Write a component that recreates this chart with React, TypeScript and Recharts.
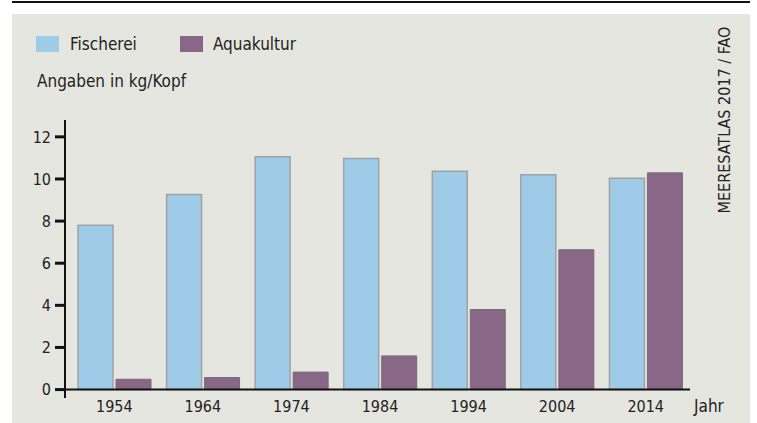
import React from "react";
import {
    BarChart,
    Bar,
    XAxis,
    YAxis,
    ReferenceLine,
    Legend,
} from "recharts";

const years = ["1954", "1964", "1974", "1984", "1994", "2004", "2014"];
const fischerei = [7.8, 9.26, 11.05, 10.97, 10.37, 10.2, 10.03];
const aquakultur = [0.49, 0.57, 0.83, 1.6, 3.8, 6.64, 10.29];
const yTicks = [0, 2, 4, 6, 8, 10, 12];

const data = years.map((year, i) => ({
    year,
    fischerei: fischerei[i],
    aquakultur: aquakultur[i],
}));

const FONT = "'DejaVu Sans Condensed', 'DejaVu Sans', sans-serif";
const TEXT = "#222";
const BLUE = "#9ecbe8";
const PURPLE = "#886787";

const LegendContent = () => (
    <div style={{ display: "flex", alignItems: "center", fontFamily: FONT, fontSize: 17, color: TEXT }}>
        <span style={{ width: 23, height: 16, background: BLUE, display: "inline-block" }} />
        <span style={{ marginLeft: 11 }}>Fischerei</span>
        <span style={{ width: 23, height: 16, background: PURPLE, display: "inline-block", marginLeft: 43 }} />
        <span style={{ marginLeft: 10 }}>Aquakultur</span>
    </div>
);

const App: React.FC = () => {
    return (
        <div style={{ position: "absolute", left: 0, top: 0, width: 757, height: 423, fontFamily: FONT }}>
            <div style={{ position: "absolute", left: 12, top: 1, width: 738, height: 2, background: "#111" }} />
            <div style={{ position: "absolute", left: 12, top: 14, width: 738, height: 409, background: "#e6e6e1" }} />
            <div style={{ position: "absolute", left: 37, top: 71, fontSize: 17, color: TEXT, whiteSpace: "nowrap" }}>
                Angaben in kg/Kopf
            </div>
            <div
                style={{
                    position: "absolute",
                    left: 724,
                    top: 120,
                    transform: "translate(-50%, -50%) rotate(-90deg)",
                    fontSize: 16,
                    color: TEXT,
                    whiteSpace: "nowrap",
                }}
            >
                MEERESATLAS 2017 / FAO
            </div>
            <div style={{ position: "absolute", left: 694, top: 396, fontSize: 17, color: TEXT }}>Jahr</div>
            <div style={{ position: "absolute", left: 0, top: 0, fontFamily: FONT }}>
                <BarChart
                    width={757}
                    height={423}
                    data={data}
                    margin={{ top: 100, right: 67, bottom: 0, left: 0 }}
                    barCategoryGap={8}
                    barGap={3}
                    style={{ fontFamily: FONT }}
                >
                    <XAxis
                        dataKey="year"
                        axisLine={false}
                        tickLine={false}
                        height={25}
                        tickSize={0}
                        tickMargin={3}
                        padding={{ left: 5, right: 0 }}
                        tick={{ fill: TEXT, fontSize: 16 }}
                    />
                    <YAxis
                        domain={[-0.4, 12.8]}
                        ticks={yTicks}
                        width={65}
                        axisLine={{ stroke: "#111", strokeWidth: 2 }}
                        tickLine={{ stroke: "#111", strokeWidth: 3 }}
                        tickSize={10}
                        tickMargin={4}
                        tick={{ fill: TEXT, fontSize: 16 }}
                    />
                    <Legend
                        verticalAlign="top"
                        align="left"
                        content={<LegendContent />}
                        wrapperStyle={{ position: "absolute", top: 34, left: 36, width: "auto" }}
                    />
                    <ReferenceLine y={0} stroke="#111" strokeWidth={2} />
                    <Bar dataKey="fischerei" fill={BLUE} stroke="#a2a2a2" strokeWidth={1.5} isAnimationActive={false} />
                    <Bar dataKey="aquakultur" fill={PURPLE} stroke="#7a6a79" strokeWidth={1} isAnimationActive={false} />
                </BarChart>
            </div>
        </div>
    );
};

export default App;
